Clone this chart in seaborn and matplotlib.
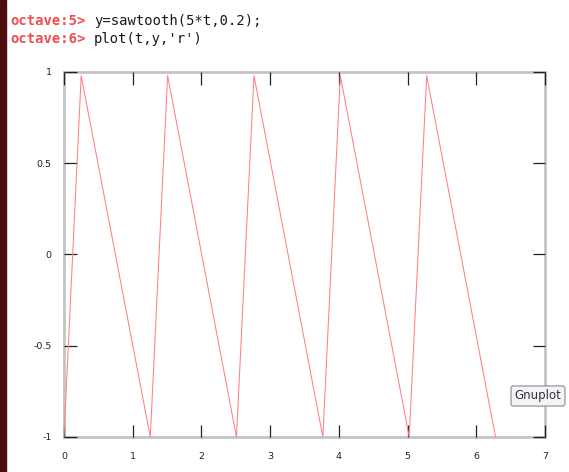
import matplotlib
matplotlib.use('Agg')
import matplotlib.pyplot as plt
import seaborn as sns
import pandas as pd

# vertices of y = sawtooth(5*t, 0.2)
t_vals = [0.0, 0.25, 1.256, 1.508, 2.51, 2.765, 3.767, 4.021, 5.024, 5.278, 6.28]
y_vals = [-1.0, 0.98, -1.0, 0.98, -1.0, 0.98, -1.0, 0.98, -1.0, 0.98, -1.0]

x_ticks = [0, 1, 2, 3, 4, 5, 6, 7]
y_ticks = [-1, -0.5, 0, 0.5, 1]
y_tick_labels = ['-1', '-0.5', '0', '0.5', '1']

prompts = ['octave:5>', 'octave:6>']
commands = ["y=sawtooth(5*t,0.2);", "plot(t,y,'r')"]

df = pd.DataFrame({'t': t_vals, 'y': y_vals})

sns.set_theme(style='white')
plt.rcParams['font.family'] = ['DejaVu Sans']

fig = plt.figure(figsize=(5.69, 4.72), dpi=100)
fig.patch.set_facecolor('white')

# dark strip on the left edge of the console window
fig.patches.append(plt.Rectangle((0, 0), 6 / 569, 1, transform=fig.transFigure,
                                 color='#4e0c0c', zorder=0))

# console lines
for i, (p, c) in enumerate(zip(prompts, commands)):
    yy = 1 - (21 + 18 * i) / 472
    fig.text(10 / 569, yy, p, family='DejaVu Sans Mono', fontsize=10,
             fontweight='bold', color='#ef4d52', va='center')
    fig.text(94 / 569, yy, c, family='DejaVu Sans Mono', fontsize=10,
             color='#1a1a1a', va='center')

ax = fig.add_axes([64 / 569, 35 / 472, 481 / 569, 365 / 472])
sns.lineplot(data=df, x='t', y='y', sort=False, estimator=None, ax=ax,
             color='#ff8080', linewidth=0.75)

ax.set_xlim(0, 7)
ax.set_ylim(-1, 1)
ax.set_xticks(x_ticks)
ax.set_xticklabels([str(v) for v in x_ticks])
ax.set_yticks(y_ticks)
ax.set_yticklabels(y_tick_labels)
ax.set_xlabel('')
ax.set_ylabel('')

ax.tick_params(direction='in', length=9, width=0.9, color='#222222',
               bottom=True, left=True, top=True, right=True,
               labelsize=6.8, labelcolor='#222222')
ax.tick_params(axis='x', pad=11)
ax.tick_params(axis='y', pad=9)
for s in ax.spines.values():
    s.set_color('#c4c4c4')
    s.set_linewidth(2)
    s.set_zorder(0.4)

# tooltip box
fig.text(538 / 569, 1 - 396 / 472, 'Gnuplot', fontsize=8.5, color='#333333',
         ha='center', va='center',
         bbox=dict(boxstyle='round,pad=0.3,rounding_size=0.2',
                   facecolor='#f4f4f8', edgecolor='#8a8a8a', linewidth=0.8))

fig.savefig('out.png', dpi=100)
